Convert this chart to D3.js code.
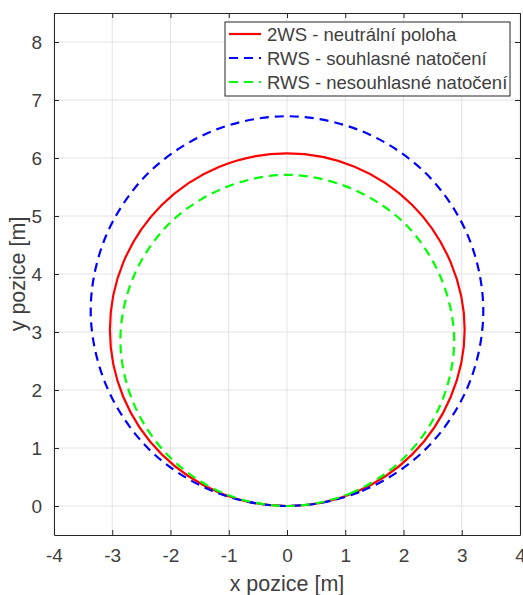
<!DOCTYPE html>
<html>
<head>
<meta charset="utf-8">
<script src="https://cdn.jsdelivr.net/npm/d3@7"></script>
<style>
  html, body { margin: 0; padding: 0; background: #fff; }
  svg { display: block; font-family: "Liberation Sans", Arial, sans-serif; }
</style>
</head>
<body>
<svg id="chart" width="523" height="595"></svg>
<script>
// Turning trajectories of the vehicle centre (x, y in metres), sampled around each loop
const seriesNames = ["2WS - neutrální poloha", "RWS - souhlasné natočení", "RWS - nesouhlasné natočení"];
const seriesColors = ["#ff0000", "#0000ff", "#00ff00"];
const seriesDash = [null, "9,6", "9,6"];

const path2WS_x = [0, 1.16, 2.15, 2.81, 3.05, 2.81, 2.15, 1.16, 0, -1.16, -2.15, -2.81, -3.04, -2.81, -2.15, -1.16];
const path2WS_y = [0, 0.23, 0.89, 1.88, 3.04, 4.20, 5.19, 5.85, 6.08, 5.85, 5.19, 4.20, 3.04, 1.88, 0.89, 0.23];

const pathRWSsame_x = [0, 1.29, 2.38, 3.11, 3.37, 3.11, 2.38, 1.29, 0, -1.29, -2.38, -3.11, -3.37, -3.10, -2.37, -1.28];
const pathRWSsame_y = [0, 0.26, 0.98, 2.07, 3.36, 4.65, 5.74, 6.46, 6.72, 6.46, 5.74, 4.65, 3.36, 2.07, 0.98, 0.26];

const pathRWSopp_x = [0, 1.09, 2.02, 2.64, 2.87, 2.64, 2.02, 1.09, 0, -1.09, -2.02, -2.64, -2.86, -2.63, -2.01, -1.09];
const pathRWSopp_y = [0, 0.22, 0.84, 1.76, 2.85, 3.94, 4.87, 5.48, 5.71, 5.48, 4.87, 3.94, 2.85, 1.76, 0.84, 0.22];

const xTicks = [-4, -3, -2, -1, 0, 1, 2, 3, 4];
const yTicks = [0, 1, 2, 3, 4, 5, 6, 7, 8];
const xDomain = [-4, 4];
const yDomain = [-0.5, 8.5];

const series = [
  { xs: path2WS_x, ys: path2WS_y },
  { xs: pathRWSsame_x, ys: pathRWSsame_y },
  { xs: pathRWSopp_x, ys: pathRWSopp_y }
];

const svg = d3.select("#chart");
const plot = { left: 54, right: 520, top: 13, bottom: 535 };
const axisColor = "#262626";
const textColor = "#404040";

const x = d3.scaleLinear().domain(xDomain).range([plot.left, plot.right]);
const y = d3.scaleLinear().domain(yDomain).range([plot.bottom, plot.top]);

// grid
const grid = svg.append("g");
grid.selectAll("line.gx").data(xTicks).join("line")
  .attr("x1", d => x(d)).attr("x2", d => x(d))
  .attr("y1", plot.top).attr("y2", plot.bottom)
  .attr("stroke", "#e3e3e3").attr("stroke-width", 1);
grid.selectAll("line.gy").data(yTicks).join("line")
  .attr("y1", d => y(d)).attr("y2", d => y(d))
  .attr("x1", plot.left).attr("x2", plot.right)
  .attr("stroke", "#e3e3e3").attr("stroke-width", 1);

// trajectories
const line = d3.line()
  .x(d => x(d[0]))
  .y(d => y(d[1]))
  .curve(d3.curveCatmullRomClosed.alpha(0.5));

series.forEach((s, i) => {
  const pts = s.xs.map((v, k) => [v, s.ys[k]]);
  svg.append("path")
    .attr("d", line(pts))
    .attr("fill", "none")
    .attr("stroke", seriesColors[i])
    .attr("stroke-width", 2.2)
    .attr("stroke-dasharray", seriesDash[i]);
});

// axes (box with inward ticks on all sides)
const tickLen = 5;
const axB = svg.append("g").attr("transform", `translate(0,${plot.bottom})`)
  .call(d3.axisBottom(x).tickValues(xTicks).tickSizeInner(-tickLen).tickSizeOuter(0).tickPadding(14).tickFormat(d3.format("d")));
const axT = svg.append("g").attr("transform", `translate(0,${plot.top})`)
  .call(d3.axisTop(x).tickValues(xTicks).tickSizeInner(-tickLen).tickSizeOuter(0).tickFormat(""));
const axL = svg.append("g").attr("transform", `translate(${plot.left},0)`)
  .call(d3.axisLeft(y).tickValues(yTicks).tickSizeInner(-tickLen).tickSizeOuter(0).tickPadding(12).tickFormat(d3.format("d")));
const axR = svg.append("g").attr("transform", `translate(${plot.right},0)`)
  .call(d3.axisRight(y).tickValues(yTicks).tickSizeInner(-tickLen).tickSizeOuter(0).tickFormat(""));

[axB, axT, axL, axR].forEach(g => {
  g.select(".domain").attr("stroke", axisColor).attr("stroke-width", 1);
  g.selectAll(".tick line").attr("stroke", axisColor);
  g.selectAll(".tick text")
    .attr("fill", textColor)
    .style("font-size", "19px")
    .style("font-family", "'Liberation Sans', Arial, sans-serif");
});
// hyphen-style minus on the x tick labels
axB.selectAll(".tick text").text(d => String(d));

// axis titles
svg.append("text")
  .attr("x", (plot.left + plot.right) / 2)
  .attr("y", 591)
  .attr("text-anchor", "middle")
  .attr("fill", textColor)
  .style("font-size", "21.5px")
  .text("x pozice [m]");

svg.append("text")
  .attr("transform", `translate(25,${(plot.top + plot.bottom) / 2}) rotate(-90)`)
  .attr("text-anchor", "middle")
  .attr("fill", textColor)
  .style("font-size", "21.5px")
  .text("y pozice [m]");

// legend
const leg = { x: 225, y: 22, w: 285, h: 74, rowH: 24 };
const lg = svg.append("g");
lg.append("rect")
  .attr("x", leg.x).attr("y", leg.y).attr("width", leg.w).attr("height", leg.h)
  .attr("fill", "#fff").attr("stroke", axisColor).attr("stroke-width", 1);

seriesNames.forEach((name, i) => {
  const cy = leg.y + 12 + i * leg.rowH;
  lg.append("line")
    .attr("x1", leg.x + 4).attr("x2", leg.x + 36)
    .attr("y1", cy).attr("y2", cy)
    .attr("stroke", seriesColors[i]).attr("stroke-width", 2.2)
    .attr("stroke-dasharray", seriesDash[i]);
  lg.append("text")
    .attr("x", leg.x + 42).attr("y", cy + 6.5)
    .attr("fill", textColor)
    .style("font-size", "18.5px")
    .text(name);
});
</script>
</body>
</html>
